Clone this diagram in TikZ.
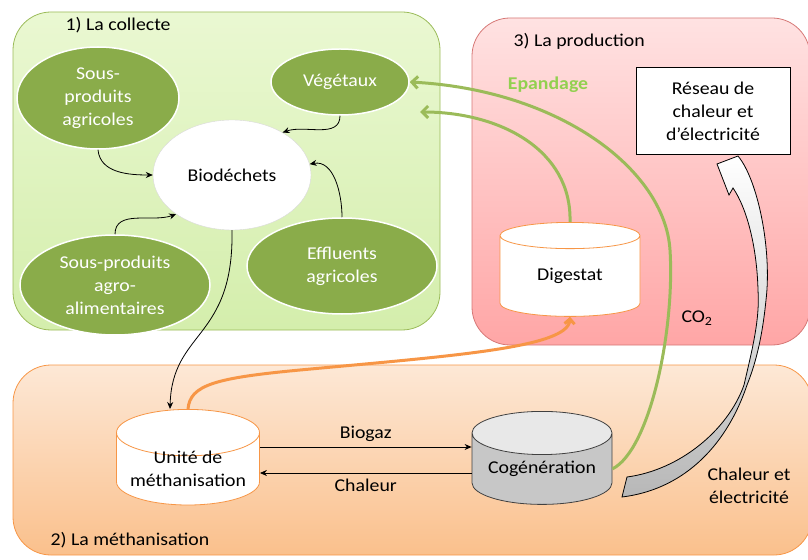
\documentclass[tikz,border=0pt]{standalone}
\usepackage{fontspec}
\setmainfont{Carlito}[FakeStretch=1.1]
\usetikzlibrary{shapes.geometric,arrows.meta}
\definecolor{leaf}{RGB}{138,172,74}
\definecolor{leafline}{RGB}{155,187,89}
\definecolor{epand}{RGB}{146,208,80}
\definecolor{tang}{RGB}{247,150,70}
\definecolor{rosy}{RGB}{214,120,118}
\tikzset{
  panel/.style={rounded corners=38bp, line width=0.8bp},
  feed/.style={ellipse, fill=leaf, draw=white, line width=1.5bp, text=white, align=center, inner sep=0pt},
  tank/.style={cylinder, shape border rotate=90, aspect=0.4, draw=tang, align=center, anchor=north,
    minimum width=140bp, minimum height=90bp, inner sep=0pt, line width=0.8bp},
  flow/.style={-{Stealth[length=7bp,width=6bp]}, line width=0.8bp},
  spread/.style={-{Straight Barb[length=6bp,width=12bp]}, draw=leafline, line width=3bp},
}
\begin{document}
\begin{tikzpicture}[x=1bp,y=-1bp,font=\fontsize{18bp}{23bp}\selectfont]
  \useasboundingbox (0,0) rectangle (808,560);
  \clip (0,0) rectangle (808,560);
  % panels
  \path[panel, draw=leafline, top color={rgb,255:red,234;green,248;blue,210}, bottom color={rgb,255:red,212;green,238;blue,172}]
    (13,12) rectangle (440,330);
  \path[panel, draw=rosy, top color={rgb,255:red,255;green,226;blue,226}, bottom color={rgb,255:red,255;green,166;blue,166}]
    (472,18) rectangle (810,345);
  \path[panel, draw=tang, top color={rgb,255:red,253;green,232;blue,214}, bottom color={rgb,255:red,250;green,192;blue,140}]
    (13,365) rectangle (812,555);
  \node[anchor=west] (t1) at (62,25) {1) La collecte};
  \node[anchor=west] (t3) at (510,41) {3) La production};
  \node[anchor=west] (t2) at (47,540) {2) La méthanisation};

  % collecte
  \node[feed, minimum width=162bp, minimum height=102bp] (spa) at (98,98) {Sous-\\produits\\agricoles};
  \node[feed, minimum width=138bp, minimum height=66bp] (veg) at (340,82) {Végétaux};
  \node[ellipse, fill=white, draw=black!15, minimum width=158bp, minimum height=110bp] (bio) at (232,175) {Biodéchets};
  \node[feed, minimum width=190bp, minimum height=100bp] (saa) at (115,285) {Sous-produits\\agro-\\alimentaires};
  \node[feed, minimum width=190bp, minimum height=96bp] (eff) at (342,266) {Effluents\\agricoles};
  \draw[flow] (spa.south) to[out=-85,in=180] (bio.west);
  \draw[flow] (veg.south) to[out=-90,in=20] (bio.40);
  \draw[flow] (saa.north) to[out=90,in=200] (bio.215);
  \draw[flow] (eff.north) to[out=90,in=10] (bio.8);

  % production
  \node[tank, fill=white, minimum height=94bp] (dig) at (570,222) {Digestat};
  \node[draw, fill=white, line width=1bp, minimum width=154bp, minimum height=87bp, align=center] (res) at (713,111)
    {Réseau de\\chaleur et\\d’électricité};
  \node[font=\bfseries\fontsize{18bp}{23bp}\selectfont, text=epand] (epa) at (548,85) {Epandage};
  \node (co2) at (697,318) {CO\textsubscript{2}};

  % methanisation
  \node[tank, fill=white, minimum width=143bp, inner ysep=-5bp] (uni) at (188,409) {Unité de\\méthanisation};
  \node[tank, draw=black!75, cylinder uses custom fill, cylinder body fill=black!22, cylinder end fill=black!9,
    minimum height=93bp] (cog) at (542,411) {Cogénération};
  \node[align=center] (ce) at (749,486) {Chaleur et\\électricité};
  \draw[flow] ([yshift=-38bp]uni.north -| uni.east) -- ([yshift=-38bp]uni.north -| cog.west)
    node[midway, above=2bp] (bgz) {Biogaz};
  \draw[flow] ([yshift=-64bp]uni.north -| cog.west) -- ([yshift=-64bp]uni.north -| uni.east)
    node[midway, below=2bp] (chl) {Chaleur};

  % flows between panels
  \draw[flow] (bio.south) .. controls (234,340) and (172,330) .. ([xshift=-18bp]uni.north);
  \draw[-{Straight Barb[length=5bp,width=10bp]}, draw=tang, line width=3bp]
    (uni.north) .. controls (190,385) and (215,378) .. (300,370) .. controls (450,356) and (568,348) .. (dig.south);
  \coordinate (vegin) at (420,112);
  \draw[spread] (dig.north) .. controls (572,150) and (500,112) .. (vegin);
  \draw[spread] (cog.east) .. controls (650,450) and (675,330) .. (670,250) .. controls (665,170) and (560,90) .. (veg.east);
  \path[draw=black, line width=0.8bp, top color=white, middle color=white, bottom color=black!28]
    (738,156) .. controls (758,180) and (772,250) .. (766,300) .. controls (762,340) and (755,365) .. (747,385)
    .. controls (725,450) and (680,490) .. (622,497)
    -- (627,477) .. controls (680,470) and (728,430) .. (744,385)
    .. controls (752,350) and (760,320) .. (758,290) .. controls (757,250) and (748,210) .. (733,188)
    -- (729,195) -- (717,164) -- cycle;
\end{tikzpicture}
\end{document}
